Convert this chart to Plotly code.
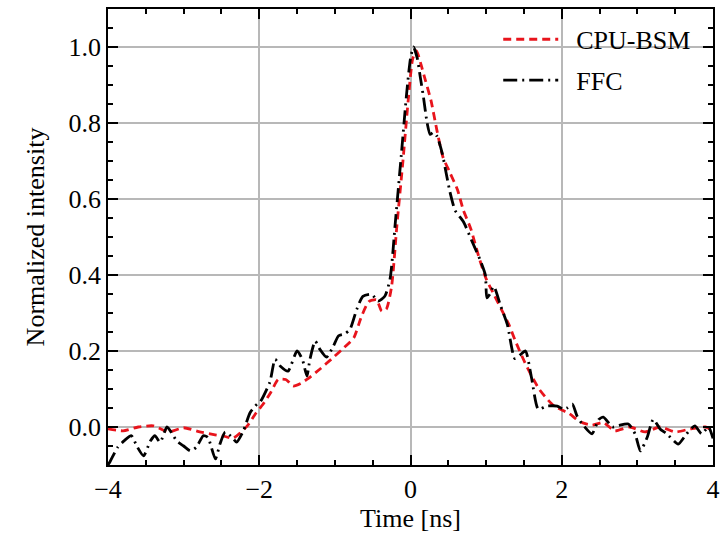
import plotly.graph_objects as go

# CPU-BSM (red dashed)
t_bsm = [-4.0, -3.8, -3.6, -3.4, -3.2, -3.0, -2.8, -2.6, -2.45, -2.35, -2.25, -2.15, -2.05,
         -1.95, -1.85, -1.75, -1.65, -1.55, -1.45, -1.35, -1.2, -1.05, -0.9, -0.75, -0.65,
         -0.55, -0.45, -0.38, -0.32, -0.25, -0.18, -0.1, -0.03, 0.03, 0.08, 0.13, 0.2, 0.27,
         0.35, 0.43, 0.52, 0.62, 0.7, 0.8, 0.9, 1.0, 1.1, 1.2, 1.3, 1.4, 1.5, 1.6, 1.7, 1.8,
         1.9, 2.0, 2.1, 2.25, 2.4, 2.55, 2.7, 2.9, 3.1, 3.3, 3.5, 3.7, 3.9, 4.0]
v_bsm = [-0.005, -0.01, 0.0, 0.003, -0.013, -0.002, -0.012, -0.02, -0.025, -0.03, -0.015,
         0.005, 0.035, 0.06, 0.09, 0.125, 0.125, 0.108, 0.115, 0.128, 0.152, 0.178, 0.205,
         0.235, 0.29, 0.33, 0.335, 0.305, 0.31, 0.37, 0.53, 0.7, 0.86, 0.97, 0.99, 0.96,
         0.91, 0.86, 0.78, 0.71, 0.67, 0.625, 0.57, 0.52, 0.45, 0.39, 0.35, 0.31, 0.27, 0.22,
         0.175, 0.135, 0.1, 0.075, 0.055, 0.045, 0.035, 0.013, 0.005, 0.012, -0.01, 0.0,
         -0.013, 0.0, -0.013, -0.005, 0.0, -0.01]

# FFC (black dash-dot)
t_ffc = [-4.0, -3.97, -3.87, -3.78, -3.69, -3.62, -3.53, -3.44, -3.38, -3.31, -3.22, -3.15,
         -3.09, -3.0, -2.91, -2.83, -2.74, -2.68, -2.58, -2.52, -2.45, -2.36, -2.3, -2.21,
         -2.12, -2.03, -1.99, -1.86, -1.79, -1.72, -1.62, -1.5, -1.43, -1.37, -1.33, -1.26,
         -1.2, -1.11, -1.02, -0.95, -0.87, -0.8, -0.71, -0.63, -0.51, -0.43, -0.34, -0.27,
         -0.2, -0.12, -0.05, 0.0, 0.04, 0.09, 0.13, 0.17, 0.22, 0.26, 0.3, 0.35, 0.42, 0.47,
         0.52, 0.59, 0.7, 0.81, 0.92, 0.99, 1.01, 1.05, 1.1, 1.19, 1.28, 1.38, 1.45, 1.52,
         1.6, 1.69, 1.8, 1.94, 2.02, 2.07, 2.14, 2.2, 2.27, 2.4, 2.49, 2.55, 2.67, 2.75, 2.88,
         2.97, 3.04, 3.13, 3.21, 3.3, 3.39, 3.54, 3.65, 3.76, 3.85, 3.94, 4.0]
v_ffc = [-0.1, -0.09, -0.053, -0.035, -0.023, -0.05, -0.076, -0.037, -0.023, -0.04, 0.0,
         -0.018, -0.037, -0.05, -0.063, -0.053, -0.023, -0.027, -0.084, -0.045, -0.013,
         -0.027, -0.04, -0.01, 0.038, 0.06, 0.065, 0.118, 0.178, 0.16, 0.147, 0.2, 0.178,
         0.134, 0.178, 0.226, 0.205, 0.184, 0.213, 0.24, 0.245, 0.257, 0.31, 0.344, 0.349,
         0.331, 0.344, 0.39, 0.54, 0.72, 0.88, 0.97, 1.0, 0.97, 0.92, 0.87, 0.8, 0.77, 0.775,
         0.765, 0.72, 0.67, 0.62, 0.57, 0.54, 0.49, 0.44, 0.4, 0.34, 0.35, 0.37, 0.32, 0.27,
         0.18, 0.19, 0.2, 0.13, 0.047, 0.055, 0.055, 0.047, 0.05, 0.06, 0.03, 0.008, -0.018,
         0.02, 0.026, 0.0, 0.004, 0.008, -0.018, -0.063, -0.027, 0.02, -0.005, -0.018,
         -0.045, -0.018, 0.003, -0.018, 0.0, -0.03]

FONT = "Liberation Serif"
FS = 26

fig = go.Figure()
fig.add_trace(go.Scatter(
    x=t_bsm, y=v_bsm, mode="lines", name="\u2002CPU-BSM", legendgroup="a",
    line=dict(color="#e8141c", width=2.8, dash="8px,5px", shape="spline", smoothing=0.6),
))
fig.add_trace(go.Scatter(
    x=t_ffc, y=v_ffc, mode="lines", name="\u2002FFC", legendgroup="b",
    line=dict(color="black", width=2.8, dash="14px,5px,2px,5px", shape="spline", smoothing=0.6),
))

axis_common = dict(
    showline=True, linecolor="black", linewidth=1.5, mirror="allticks",
    ticks="inside", ticklen=10, tickwidth=1.5, tickcolor="black",
    showgrid=True, gridcolor="#b8b8b8", gridwidth=1.5, zeroline=False,
    automargin=False,
    tickfont=dict(family=FONT, size=FS, color="black"),
)

fig.update_xaxes(
    range=[-4, 4], dtick=2, tick0=0,
    title=dict(text="Time [ns]", font=dict(family=FONT, size=FS, color="black"), standoff=4),
    minor=dict(dtick=0.5, ticks="inside", ticklen=5, tickwidth=1.5, tickcolor="black", showgrid=False),
    **axis_common,
)
fig.update_yaxes(
    range=[-0.1, 1.1], dtick=0.2, tick0=0, tickformat=".1f",
    title=dict(text="Normalized intensity", font=dict(family=FONT, size=FS, color="black"), standoff=16),
    minor=dict(dtick=0.05, ticks="inside", ticklen=5, tickwidth=1.5, tickcolor="black", showgrid=False),
    **axis_common,
)

fig.update_layout(
    width=721, height=537,
    margin=dict(l=108, r=8, t=9, b=72),
    plot_bgcolor="white", paper_bgcolor="white",
    font=dict(family=FONT, size=FS, color="black"),
    legend=dict(x=0.645, y=0.985, xanchor="left", yanchor="top",
                bgcolor="rgba(0,0,0,0)", borderwidth=0, tracegroupgap=4,
                itemwidth=55, traceorder="grouped", font=dict(family=FONT, size=FS)),
    showlegend=True,
)

fig.write_html("out.html")
